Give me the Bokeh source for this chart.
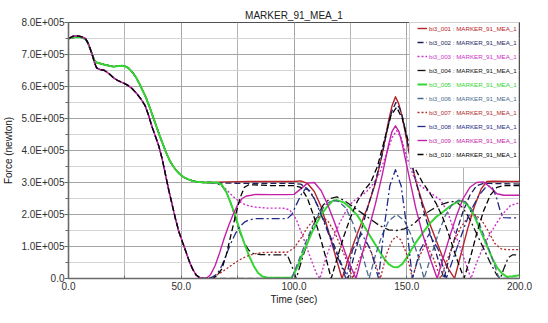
from bokeh.plotting import figure
from bokeh.models import Range1d, Legend, LegendItem, FixedTicker, ColumnDataSource
from bokeh.embed import file_html
from bokeh.resources import INLINE

# ---------------- data (force in units of 1E+005 newton) ----------------
SERIES = ["bi3_001", "bi3_002", "bi3_003", "bi3_004", "bi3_005",
          "bi3_006", "bi3_007", "bi3_008", "bi3_009", "bi3_010"]
SUFFIX = " : MARKER_91_MEA_1"
TITLE = "MARKER_91_MEA_1"
X_LABEL = "Time (sec)"
Y_LABEL = "Force (newton)"
X_TICKS = [0, 50, 100, 150, 200]
X_TICK_LABELS = ["0.0", "50.0", "100.0", "150.0", "200.0"]
X_MINOR = [25, 75, 125, 175]
Y_TICKS = [0, 100000, 200000, 300000, 400000, 500000, 600000, 700000, 800000]
Y_TICK_LABELS = ["0.0", "1.0E+005", "2.0E+005", "3.0E+005", "4.0E+005",
                 "5.0E+005", "6.0E+005", "7.0E+005", "8.0E+005"]
Y_MINOR = [50000, 150000, 250000, 350000, 450000, 550000, 650000, 750000]

# common start of the upper group (bi3_001..bi3_005)
T_UP = [0, 2, 4, 6, 7.5, 8.5, 9.5, 10.5, 11.5, 12.5, 14, 16, 18, 20, 22, 24, 25.5, 27,
        28.5, 30, 31.5, 33, 34.5, 36, 37.5, 39, 40.5, 42, 43.5, 45, 46.5, 48, 49.5, 51,
        53, 55, 57, 60]
V_UP = [7.5, 7.53, 7.55, 7.53, 7.48, 7.38, 7.2, 7.0, 6.82, 6.75, 6.72, 6.68, 6.65, 6.62,
        6.64, 6.65, 6.62, 6.55, 6.43, 6.28, 6.08, 5.86, 5.63, 5.35, 5.05, 4.75, 4.45,
        4.17, 3.9, 3.67, 3.5, 3.36, 3.25, 3.17, 3.1, 3.05, 3.02, 3.0]
# common start of the lower group (bi3_006..bi3_010)
T_LOW = [0, 2, 4, 6, 7.5, 8.5, 9.5, 10.5, 11.5, 12.5, 14, 16, 18, 20, 22, 24, 26, 28,
         30, 32, 34, 35.5, 37, 38.5, 40, 41.5, 43, 44.5, 46, 47.5, 49, 50.5, 52, 53.5,
         55, 56.5, 58, 60]
V_LOW = [7.5, 7.57, 7.58, 7.55, 7.5, 7.38, 7.2, 7.0, 6.75, 6.58, 6.53, 6.5, 6.4, 6.27,
         6.18, 6.12, 6.05, 5.95, 5.8, 5.62, 5.4, 5.1, 4.75, 4.45, 4.15, 3.75, 3.25, 2.75,
         2.3, 1.85, 1.45, 1.15, 0.85, 0.55, 0.3, 0.12, 0.03, 0.0]

T_001 = [63, 70, 80, 90, 100, 103, 106, 109, 112, 115, 118, 121.3, 124, 127, 130, 133,
         136, 139, 142, 143.5, 145, 146.5, 148, 151, 154, 157, 160, 163, 166, 168.5,
         171.2, 174, 177, 180, 183, 185.5, 188, 200]
V_001 = [3.0, 3.02, 3.03, 3.03, 3.03, 3.05, 2.97, 2.72, 2.25, 1.55, 0.8, 0.0, 0.6, 1.2,
         1.75, 2.3, 2.95, 3.85, 4.95, 5.4, 5.68, 5.45, 5.05, 3.95, 3.05, 2.35, 1.75, 1.2,
         0.65, 0.3, 0.0, 0.75, 1.55, 2.25, 2.8, 3.03, 3.04, 3.03]
T_002 = [63, 70, 80, 90, 100, 103, 106, 109, 112, 115, 118, 121, 124, 127, 130, 133, 136,
         139, 142, 143.5, 145.2, 147, 148.5, 151, 154, 157, 160, 163, 166.5, 169, 172,
         175, 178, 181, 184, 187, 200]
V_002 = [3.0, 2.98, 2.97, 2.97, 2.97, 2.95, 2.8, 2.5, 2.05, 1.5, 1.0, 0.45, 0.0, 0.8,
         1.55, 2.3, 3.0, 3.85, 4.85, 5.25, 5.5, 5.3, 4.95, 4.0, 3.05, 2.25, 1.5, 0.8, 0.0,
         0.7, 1.45, 2.1, 2.6, 2.9, 2.97, 2.97, 2.95]
T_003 = [63, 66, 68, 70, 72, 74, 76, 78, 80, 83, 88, 95, 98, 101, 104, 107, 110, 111.5,
         114, 117, 120, 123, 126, 129, 132, 135, 138, 141, 143.5, 145.5, 147.5, 150, 153,
         156, 159, 162, 165, 168, 171, 174, 177, 178.5, 181, 184, 187, 190, 193, 196, 200]
V_003 = [3.0, 2.97, 2.9, 2.78, 2.63, 2.5, 2.4, 2.32, 2.27, 2.23, 2.2, 2.2, 2.15, 1.85,
         1.3, 0.7, 0.15, 0.0, 0.6, 1.2, 1.7, 2.1, 2.4, 2.55, 2.7, 2.95, 3.3, 3.9, 4.4,
         4.62, 4.4, 3.8, 3.2, 2.9, 2.75, 2.6, 2.45, 2.1, 1.5, 0.9, 0.3, 0.0, 0.5, 1.0,
         1.4, 1.75, 2.05, 2.28, 2.37]
T_004 = [63, 66, 68, 70, 72, 74, 76, 78, 80, 82, 85, 90, 97, 99, 101, 104, 107, 110, 113,
         116, 119, 122, 126, 130, 134, 138, 142, 145.5, 149, 153, 157, 161, 165, 169, 172,
         175, 178, 181, 184, 187, 190, 191.5, 193, 195, 197, 200]
V_004 = [3.0, 2.97, 2.9, 2.7, 2.35, 1.9, 1.45, 1.1, 0.88, 0.78, 0.75, 0.74, 0.74, 0.4,
         0.0, 0.7, 1.35, 1.9, 2.3, 2.5, 2.55, 2.45, 2.25, 2.05, 1.85, 1.65, 1.52, 1.5,
         1.55, 1.7, 1.97, 2.15, 2.3, 2.4, 2.4, 2.2, 1.85, 1.4, 0.95, 0.5, 0.1, 0.0, 0.3,
         0.65, 0.74, 0.74]
T_005 = [63, 66, 68, 70, 72, 73.7, 76, 77.9, 80, 82.1, 84, 86, 88, 92, 96, 98.9, 100,
         101.8, 104, 106, 108, 110, 112, 114.4, 117, 119, 122, 125, 128, 131, 134, 137,
         140, 142, 144, 146, 148, 150, 152, 154, 157, 160, 163, 166, 169, 172, 174.5, 177,
         180, 183, 186, 188, 190, 192.3, 194.5, 197, 200]
V_005 = [3.0, 3.0, 2.93, 2.7, 2.35, 2.02, 1.5, 1.11, 0.72, 0.4, 0.18, 0.06, 0.03, 0.02,
         0.02, 0.03, 0.15, 0.4, 0.8, 1.11, 1.45, 1.72, 1.98, 2.22, 2.42, 2.45, 2.38, 2.2,
         1.98, 1.65, 1.3, 0.95, 0.62, 0.45, 0.36, 0.35, 0.45, 0.65, 0.9, 1.12, 1.42, 1.7,
         1.92, 2.08, 2.25, 2.38, 2.43, 2.3, 1.95, 1.45, 0.95, 0.62, 0.35, 0.15, 0.05, 0.07,
         0.1]
T_006 = [62, 70, 80, 90, 99, 102, 105, 108, 111, 114, 117, 120, 123, 126, 129, 131.5,
         133.3, 136, 139, 142, 145.5, 149, 152, 155, 157.7, 161, 164, 167, 170, 173, 176,
         179, 182, 185, 188, 191, 200]
V_006 = [0.0, 0.0, 0.0, 0.0, 0.0, 0.55, 1.1, 1.6, 2.0, 2.3, 2.45, 2.4, 2.2, 1.75, 1.1,
         0.45, 0.0, 0.7, 1.35, 1.8, 2.0, 1.8, 1.35, 0.7, 0.0, 0.75, 1.4, 1.95, 2.3, 2.45,
         2.4, 2.15, 1.75, 1.2, 0.6, 0.0, 0.0]
T_007 = [62, 65, 68, 71, 74, 77, 80, 83, 86, 90, 97, 100, 103, 106, 109, 112, 115, 118,
         121, 124, 126, 129, 132.5, 135.5, 138.3, 141, 143.5, 145.5, 147.5, 150, 152.5,
         155, 158.5, 162, 165, 168, 171, 174, 177, 180, 183, 186, 189, 192, 195, 200]
V_007 = [0.0, 0.08, 0.2, 0.35, 0.5, 0.63, 0.72, 0.78, 0.81, 0.82, 0.82, 0.95, 1.25, 1.6,
         1.85, 1.95, 1.8, 1.45, 0.95, 0.45, 0.0, 0.6, 1.1, 0.6, 0.0, 0.75, 1.2, 1.31, 1.2,
         0.75, 0.0, 0.6, 1.1, 0.6, 0.0, 0.6, 1.15, 1.6, 1.9, 2.0, 1.85, 1.5, 1.1, 0.92,
         0.9, 0.9]
T_008 = [62, 64, 66, 68, 70, 72, 74, 76, 78, 80, 83, 90, 97, 99, 101, 103, 105, 107, 109,
         112, 115, 118, 121, 123, 126, 130, 134, 137.5, 140, 142.5, 145, 147.5, 150, 152.5,
         156, 160, 164, 167.5, 170, 173, 176, 179, 182, 185, 187.5, 189.5, 191.5, 193, 200]
V_008 = [0.0, 0.05, 0.15, 0.4, 0.75, 1.1, 1.4, 1.62, 1.76, 1.83, 1.87, 1.87, 1.87, 2.0,
         2.3, 2.6, 2.8, 2.75, 2.5, 2.0, 1.45, 0.9, 0.4, 0.0, 0.9, 1.4, 0.9, 0.0, 1.6, 2.9,
         3.4, 2.9, 1.6, 0.0, 0.9, 1.4, 0.9, 0.0, 0.5, 1.1, 1.7, 2.2, 2.6, 2.85, 2.9, 2.6,
         2.1, 1.9, 1.89]
T_009 = [61, 63, 65, 67, 69, 71, 73, 75, 77, 79, 81, 83, 90, 97, 100, 103, 106, 109, 112,
         115, 118, 121, 124, 127.5, 130, 133, 136, 139, 142, 143.5, 145, 146.5, 148, 151,
         154, 157, 160, 163.5, 166, 169, 172, 175, 178, 181, 184, 187, 190, 193, 200]
V_009 = [0.0, 0.12, 0.4, 0.8, 1.25, 1.65, 2.0, 2.3, 2.5, 2.58, 2.6, 2.63, 2.62, 2.62,
         2.63, 2.8, 2.98, 3.0, 2.75, 2.3, 1.75, 1.15, 0.55, 0.0, 0.7, 1.5, 2.3, 3.2, 4.2,
         4.6, 4.77, 4.6, 4.2, 3.2, 2.2, 1.4, 0.7, 0.0, 0.6, 1.3, 1.95, 2.5, 2.85, 3.0,
         3.02, 2.85, 2.65, 2.6, 2.6]
T_010 = [62, 64, 66, 68, 70, 72, 74, 76, 78, 80, 85, 90, 100, 103, 106, 109, 112, 114.5,
         116.5, 119, 122, 125, 128, 131, 134, 137, 140, 143, 145.5, 148, 151, 154, 157,
         160, 163, 166, 169, 172, 175.4, 178, 181, 184, 187, 190, 193, 200]
V_010 = [0.0, 0.0, 0.1, 0.3, 0.75, 1.35, 1.95, 2.5, 2.85, 2.93, 2.92, 2.9, 2.9, 2.85,
         2.5, 1.9, 1.2, 0.55, 0.0, 0.6, 1.3, 1.9, 2.4, 2.75, 3.0, 3.5, 4.3, 5.1, 5.35, 5.0,
         4.2, 3.4, 3.0, 2.7, 2.35, 1.9, 1.3, 0.65, 0.0, 0.6, 1.4, 2.1, 2.6, 2.85, 2.9, 2.9]

TAILS = [(T_001, V_001), (T_002, V_002), (T_003, V_003), (T_004, V_004), (T_005, V_005),
         (T_006, V_006), (T_007, V_007), (T_008, V_008), (T_009, V_009), (T_010, V_010)]
UPPER_GROUP = [True, True, True, True, True, False, False, False, False, False]

COLORS = ["#b82228", "#1e1e5e", "#cc30c8", "#111111", "#33d633",
          "#4a6a8c", "#b02a2a", "#1f2b86", "#c41fa8", "#000000"]
DASHES = ["solid", "6 3", "2 2", "8 3 2 3", "solid",
          "6 3", "2 2", "8 3 2 3", "solid", "6 3"]
WIDTHS = [1.4, 1.3, 1.4, 1.3, 2.0, 1.3, 1.3, 1.3, 1.4, 1.3]

FONT = "Liberation Sans"

p = figure(width=532, height=307, output_backend="svg", toolbar_location=None,
           x_range=Range1d(0, 200), y_range=Range1d(0, 800000),
           min_border_left=65, min_border_right=13, min_border_top=22,
           min_border_bottom=26, background_fill_color="white",
           border_fill_color="white")
p.outline_line_color = "#505050"
p.outline_line_width = 1

p.title.text = TITLE
p.title.align = "center"
p.title.text_font = FONT
p.title.text_font_size = "10px"
p.title.text_font_style = "normal"
p.title.text_color = "#202020"
p.title.standoff = 4
p.title.offset = 0

# axes
p.xaxis.ticker = FixedTicker(ticks=X_TICKS, minor_ticks=X_MINOR)
p.yaxis.ticker = FixedTicker(ticks=Y_TICKS, minor_ticks=Y_MINOR)
p.xaxis.major_label_overrides = {t: s for t, s in zip(X_TICKS, X_TICK_LABELS)}
p.yaxis.major_label_overrides = {t: s for t, s in zip(Y_TICKS, Y_TICK_LABELS)}
for ax in (p.xaxis, p.yaxis):
    ax.axis_line_color = "#6a6a6a"
    ax.axis_line_width = 1.6
    ax.major_tick_line_color = "#6a6a6a"
    ax.minor_tick_line_color = "#6a6a6a"
    ax.major_label_text_font = FONT
    ax.major_label_text_font_size = "10px"
    ax.major_label_text_color = "#303030"
    ax.axis_label_text_font = FONT
    ax.axis_label_text_font_size = "10px"
    ax.axis_label_text_font_style = "normal"
    ax.axis_label_text_color = "#202020"
p.xaxis.major_tick_in = 3
p.xaxis.major_tick_out = 0
p.xaxis.minor_tick_in = 3
p.xaxis.minor_tick_out = 0
p.xaxis.major_label_standoff = 3
p.xaxis.axis_label = X_LABEL
p.xaxis.axis_label_standoff = 1
p.yaxis.major_tick_in = 0
p.yaxis.major_tick_out = 4
p.yaxis.minor_tick_in = 0
p.yaxis.minor_tick_out = 3
p.yaxis.major_label_standoff = 0
p.yaxis.axis_label = Y_LABEL
p.yaxis.axis_label_standoff = 4

# grids
p.xgrid.ticker = FixedTicker(ticks=X_TICKS, minor_ticks=X_MINOR)
p.ygrid.ticker = FixedTicker(ticks=Y_TICKS, minor_ticks=Y_MINOR)
p.xgrid.grid_line_color = "#a4a4a4"
p.xgrid.minor_grid_line_color = "#b4b4b4"
p.ygrid.grid_line_color = "#a4a4a4"
p.ygrid.minor_grid_line_color = "#d4d4d4"

renderers = []
for i, name in enumerate(SERIES):
    t0, v0 = (T_UP, V_UP) if UPPER_GROUP[i] else (T_LOW, V_LOW)
    tt, vv = TAILS[i]
    xs = list(t0) + list(tt)
    ys = [v * 100000 for v in list(v0) + list(vv)]
    src = ColumnDataSource(dict(x=xs, y=ys))
    r = p.line("x", "y", source=src, line_color=COLORS[i], line_width=WIDTHS[i],
               line_dash=DASHES[i], line_join="round")
    renderers.append(r)

# legend in the top-right corner: one empty box, and, stacked on it, one legend per
# series whose earlier rows are blank, so each label keeps the colour of its line
dummy = p.line(x=[0, 0], y=[-10, -10], line_alpha=0)
common = dict(location="top_right", margin=0, padding=3, spacing=2,
              glyph_width=10, glyph_height=12, label_height=12, label_width=90,
              label_standoff=2, label_text_font=FONT, label_text_font_size="6.2px",
              label_text_baseline="middle")
box = Legend(items=[LegendItem(label=" ", renderers=[dummy]) for _ in SERIES],
             border_line_color="#a0a0a0", border_line_width=1,
             background_fill_color="white", background_fill_alpha=1.0, **common)
p.add_layout(box, "center")
for k, name in enumerate(SERIES):
    items = [LegendItem(label=" ", renderers=[dummy]) for _ in range(k)]
    items.append(LegendItem(label=name + SUFFIX, renderers=[renderers[k]]))
    leg = Legend(items=items, border_line_color=None, background_fill_alpha=0.0,
                 label_text_color=COLORS[k], **common)
    p.add_layout(leg, "center")

open("out.html", "w").write(file_html(p, INLINE))
